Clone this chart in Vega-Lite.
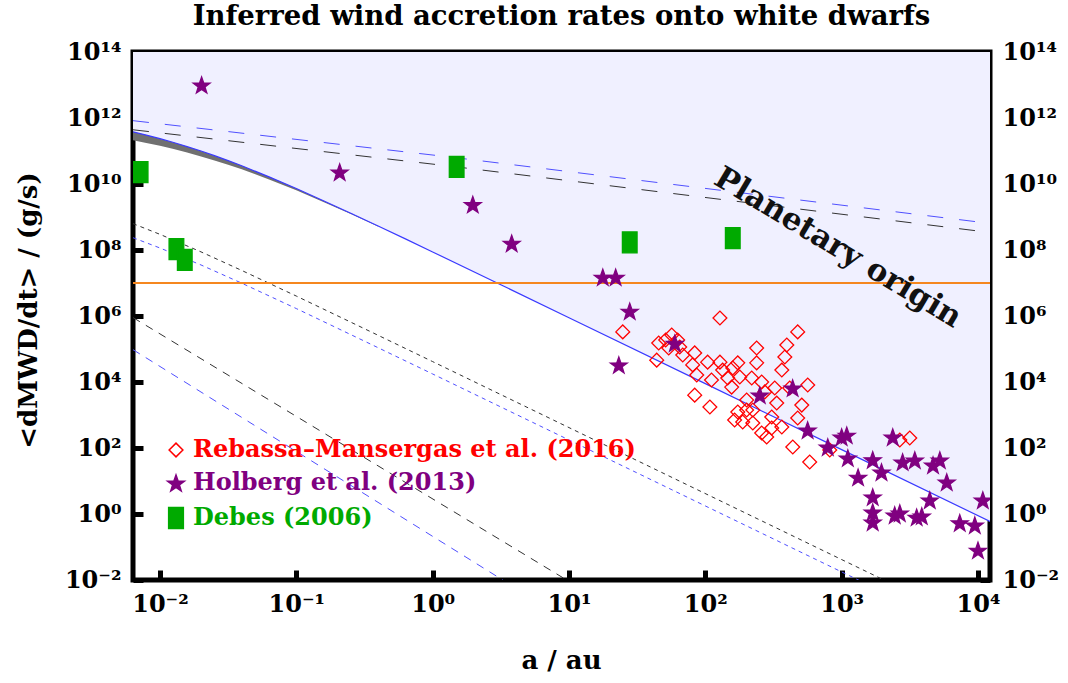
{
  "$schema": "https://vega.github.io/schema/vega-lite/v6.json",
  "autosize": {"type": "none"},
  "width": 857,
  "height": 528,
  "padding": {"left": 133, "top": 52, "right": 78, "bottom": 103},
  "background": "white",
  "title": {"text": "Inferred wind accretion rates onto white dwarfs", "font": "DejaVu Serif", "fontSize": 27.5, "fontWeight": "bold", "color": "black", "anchor": "middle", "frame": "group", "offset": 10},
  "config": {
    "view": {"stroke": "black", "strokeWidth": 5},
    "axis": {
      "domain": false, "grid": false,
      "labelFont": "DejaVu Serif", "labelFontWeight": "bold", "labelFontSize": 24, "labelColor": "black",
      "titleFont": "DejaVu Serif", "titleFontWeight": "bold", "titleFontSize": 26, "titleColor": "black",
      "tickColor": "black", "tickWidth": 5, "tickSize": -10, "labelPadding": 22,
      "labelFlush": false, "labelOverlap": false,
      "labelExpr": "'10' + replace(replace(replace(replace(replace(replace(replace(replace(replace(replace(replace(toString(round(log(datum.value)/LN10)), '-', '⁻'), '0', '⁰'), '1', '¹'), '2', '²'), '3', '³'), '4', '⁴'), '5', '⁵'), '6', '⁶'), '7', '⁷'), '8', '⁸'), '9', '⁹')"
    },
    "legend": {
      "orient": "none", "legendX": 31, "legendY": 386, "title": null,
      "labelFont": "DejaVu Serif", "labelFontWeight": "bold", "labelFontSize": 24, "labelOffset": 5, "labelLimit": 800, "rowPadding": 9
    }
  },
  "datasets": {
    "main": [
      {"a": 0.00634, "mdot": 3.8e11}, {"a": 0.00794, "mdot": 3.03e11}, {"a": 0.01, "mdot": 2.37e11},
      {"a": 0.0126, "mdot": 1.81e11}, {"a": 0.0158, "mdot": 1.36e11}, {"a": 0.02, "mdot": 1.0e11},
      {"a": 0.0251, "mdot": 7.21e10}, {"a": 0.0316, "mdot": 5.11e10}, {"a": 0.0398, "mdot": 3.56e10},
      {"a": 0.0631, "mdot": 1.65e10}, {"a": 0.1, "mdot": 7.3e9}, {"a": 0.158, "mdot": 3.12e9},
      {"a": 0.251, "mdot": 1.3e9}, {"a": 0.398, "mdot": 5.33e8}, {"a": 0.631, "mdot": 2.17e8},
      {"a": 1, "mdot": 8.73e7}, {"a": 3.16, "mdot": 8.85e6}, {"a": 10, "mdot": 8.89e5},
      {"a": 100, "mdot": 8910}, {"a": 1000, "mdot": 89.1}, {"a": 12250, "mdot": 0.594}
    ],
    "band": [
      {"a": 0.00634, "hi": 3.8e11, "lo": 2.13e11}, {"a": 0.00794, "hi": 3.03e11, "lo": 1.76e11},
      {"a": 0.01, "hi": 2.37e11, "lo": 1.43e11}, {"a": 0.0126, "hi": 1.81e11, "lo": 1.14e11},
      {"a": 0.0158, "hi": 1.36e11, "lo": 8.93e10}, {"a": 0.02, "hi": 1.0e11, "lo": 6.87e10},
      {"a": 0.0251, "hi": 7.21e10, "lo": 5.18e10}, {"a": 0.0316, "hi": 5.11e10, "lo": 3.83e10},
      {"a": 0.0398, "hi": 3.56e10, "lo": 2.78e10}, {"a": 0.0631, "hi": 1.65e10, "lo": 1.38e10},
      {"a": 0.1, "hi": 7.3e9, "lo": 6.46e9}, {"a": 0.158, "hi": 3.12e9, "lo": 2.87e9},
      {"a": 0.251, "hi": 1.3e9, "lo": 1.23e9}, {"a": 0.398, "hi": 5.33e8, "lo": 5.15e8}
    ],
    "lines": [
      {"line": "U1", "a": 0.00634, "mdot": 8.3e11}, {"line": "U1", "a": 1.33, "mdot": 6.6e10}, {"line": "U1", "a": 12250, "mdot": 6.4e8},
      {"line": "U2", "a": 0.00634, "mdot": 4.4e11}, {"line": "U2", "a": 1.33, "mdot": 3.5e10}, {"line": "U2", "a": 12250, "mdot": 3.4e8},
      {"line": "L1", "a": 0.00634, "mdot": 6.3e8}, {"line": "L1", "a": 0.01, "mdot": 2.98e8}, {"line": "L1", "a": 0.02, "mdot": 8.77e7},
      {"line": "L1", "a": 0.0398, "mdot": 2.4e7}, {"line": "L1", "a": 0.1, "mdot": 4.02e6}, {"line": "L1", "a": 0.316, "mdot": 4.12e5},
      {"line": "L1", "a": 1, "mdot": 4.15e4}, {"line": "L1", "a": 2240, "mdot": 0.0083},
      {"line": "L2", "a": 0.00634, "mdot": 2.36e8}, {"line": "L2", "a": 0.01, "mdot": 1.15e8}, {"line": "L2", "a": 0.02, "mdot": 3.52e7},
      {"line": "L2", "a": 0.0398, "mdot": 9.86e6}, {"line": "L2", "a": 0.1, "mdot": 1.68e6}, {"line": "L2", "a": 0.316, "mdot": 1.73e5},
      {"line": "L2", "a": 1, "mdot": 1.75e4}, {"line": "L2", "a": 1585, "mdot": 0.007},
      {"line": "L3", "a": 0.00634, "mdot": 8.97e5}, {"line": "L3", "a": 15.85, "mdot": 0.00287},
      {"line": "L4", "a": 0.00634, "mdot": 9.55e4}, {"line": "L4", "a": 3.98, "mdot": 0.006}
    ],
    "threshold": [{"mdot": 1e7}],
    "points": [
      {"series": "Rebassa–Mansergas et al. (2016)", "a": 128, "mdot": 8.7e5},
      {"series": "Rebassa–Mansergas et al. (2016)", "a": 24.8, "mdot": 3.3e5},
      {"series": "Rebassa–Mansergas et al. (2016)", "a": 476, "mdot": 3.3e5},
      {"series": "Rebassa–Mansergas et al. (2016)", "a": 45.5, "mdot": 1.52e5},
      {"series": "Rebassa–Mansergas et al. (2016)", "a": 51.2, "mdot": 1.87e5},
      {"series": "Rebassa–Mansergas et al. (2016)", "a": 56.7, "mdot": 2.66e5},
      {"series": "Rebassa–Mansergas et al. (2016)", "a": 62.7, "mdot": 1.87e5},
      {"series": "Rebassa–Mansergas et al. (2016)", "a": 64.9, "mdot": 1.15e5},
      {"series": "Rebassa–Mansergas et al. (2016)", "a": 53.9, "mdot": 1.07e5},
      {"series": "Rebassa–Mansergas et al. (2016)", "a": 44.0, "mdot": 4.6e4},
      {"series": "Rebassa–Mansergas et al. (2016)", "a": 68.3, "mdot": 6.6e4},
      {"series": "Rebassa–Mansergas et al. (2016)", "a": 83.6, "mdot": 7.6e4},
      {"series": "Rebassa–Mansergas et al. (2016)", "a": 80.8, "mdot": 3.3e4},
      {"series": "Rebassa–Mansergas et al. (2016)", "a": 104, "mdot": 4.0e4},
      {"series": "Rebassa–Mansergas et al. (2016)", "a": 128, "mdot": 4.0e4},
      {"series": "Rebassa–Mansergas et al. (2016)", "a": 86.5, "mdot": 1.63e4},
      {"series": "Rebassa–Mansergas et al. (2016)", "a": 83.6, "mdot": 4000},
      {"series": "Rebassa–Mansergas et al. (2016)", "a": 111, "mdot": 1.15e4},
      {"series": "Rebassa–Mansergas et al. (2016)", "a": 108, "mdot": 1750},
      {"series": "Rebassa–Mansergas et al. (2016)", "a": 134, "mdot": 2.3e4},
      {"series": "Rebassa–Mansergas et al. (2016)", "a": 146, "mdot": 1.32e4},
      {"series": "Rebassa–Mansergas et al. (2016)", "a": 159, "mdot": 2.65e4},
      {"series": "Rebassa–Mansergas et al. (2016)", "a": 173, "mdot": 3.8e4},
      {"series": "Rebassa–Mansergas et al. (2016)", "a": 179, "mdot": 1.42e4},
      {"series": "Rebassa–Mansergas et al. (2016)", "a": 156, "mdot": 7000},
      {"series": "Rebassa–Mansergas et al. (2016)", "a": 238, "mdot": 1.07e5},
      {"series": "Rebassa–Mansergas et al. (2016)", "a": 238, "mdot": 3.8e4},
      {"series": "Rebassa–Mansergas et al. (2016)", "a": 219, "mdot": 1.32e4},
      {"series": "Rebassa–Mansergas et al. (2016)", "a": 259, "mdot": 1.0e4},
      {"series": "Rebassa–Mansergas et al. (2016)", "a": 273, "mdot": 5000},
      {"series": "Rebassa–Mansergas et al. (2016)", "a": 396, "mdot": 1.32e5},
      {"series": "Rebassa–Mansergas et al. (2016)", "a": 383, "mdot": 5.7e4},
      {"series": "Rebassa–Mansergas et al. (2016)", "a": 364, "mdot": 2.3e4},
      {"series": "Rebassa–Mansergas et al. (2016)", "a": 323, "mdot": 6600},
      {"series": "Rebassa–Mansergas et al. (2016)", "a": 334, "mdot": 2300},
      {"series": "Rebassa–Mansergas et al. (2016)", "a": 364, "mdot": 433},
      {"series": "Rebassa–Mansergas et al. (2016)", "a": 438, "mdot": 107},
      {"series": "Rebassa–Mansergas et al. (2016)", "a": 583, "mdot": 37.7},
      {"series": "Rebassa–Mansergas et al. (2016)", "a": 564, "mdot": 8100},
      {"series": "Rebassa–Mansergas et al. (2016)", "a": 510, "mdot": 2000},
      {"series": "Rebassa–Mansergas et al. (2016)", "a": 476, "mdot": 811},
      {"series": "Rebassa–Mansergas et al. (2016)", "a": 307, "mdot": 404},
      {"series": "Rebassa–Mansergas et al. (2016)", "a": 259, "mdot": 285},
      {"series": "Rebassa–Mansergas et al. (2016)", "a": 223, "mdot": 573},
      {"series": "Rebassa–Mansergas et al. (2016)", "a": 201, "mdot": 1420},
      {"series": "Rebassa–Mansergas et al. (2016)", "a": 173, "mdot": 1230},
      {"series": "Rebassa–Mansergas et al. (2016)", "a": 164, "mdot": 705},
      {"series": "Rebassa–Mansergas et al. (2016)", "a": 188, "mdot": 614},
      {"series": "Rebassa–Mansergas et al. (2016)", "a": 223, "mdot": 1420},
      {"series": "Rebassa–Mansergas et al. (2016)", "a": 201, "mdot": 2850},
      {"series": "Rebassa–Mansergas et al. (2016)", "a": 282, "mdot": 215},
      {"series": "Rebassa–Mansergas et al. (2016)", "a": 307, "mdot": 869},
      {"series": "Rebassa–Mansergas et al. (2016)", "a": 416, "mdot": 6600},
      {"series": "Rebassa–Mansergas et al. (2016)", "a": 818, "mdot": 87},
      {"series": "Rebassa–Mansergas et al. (2016)", "a": 2670, "mdot": 175},
      {"series": "Rebassa–Mansergas et al. (2016)", "a": 3160, "mdot": 201},
      {"series": "Holberg et al. (2013)", "a": 0.0202, "mdot": 1.0e13},
      {"series": "Holberg et al. (2013)", "a": 0.208, "mdot": 2.3e10},
      {"series": "Holberg et al. (2013)", "a": 1.97, "mdot": 2.4e9},
      {"series": "Holberg et al. (2013)", "a": 3.8, "mdot": 1.6e8},
      {"series": "Holberg et al. (2013)", "a": 17.7, "mdot": 1.5e7},
      {"series": "Holberg et al. (2013)", "a": 22, "mdot": 1.5e7},
      {"series": "Holberg et al. (2013)", "a": 27.9, "mdot": 1.4e6},
      {"series": "Holberg et al. (2013)", "a": 23.2, "mdot": 3.3e4},
      {"series": "Holberg et al. (2013)", "a": 59.7, "mdot": 1.5e5},
      {"series": "Holberg et al. (2013)", "a": 251, "mdot": 4000},
      {"series": "Holberg et al. (2013)", "a": 437, "mdot": 6600},
      {"series": "Holberg et al. (2013)", "a": 563, "mdot": 351},
      {"series": "Holberg et al. (2013)", "a": 791, "mdot": 107},
      {"series": "Holberg et al. (2013)", "a": 1000, "mdot": 214},
      {"series": "Holberg et al. (2013)", "a": 1090, "mdot": 245},
      {"series": "Holberg et al. (2013)", "a": 1110, "mdot": 50},
      {"series": "Holberg et al. (2013)", "a": 1320, "mdot": 13},
      {"series": "Holberg et al. (2013)", "a": 1690, "mdot": 44},
      {"series": "Holberg et al. (2013)", "a": 1690, "mdot": 3.3},
      {"series": "Holberg et al. (2013)", "a": 1690, "mdot": 1.15},
      {"series": "Holberg et al. (2013)", "a": 1690, "mdot": 0.57},
      {"series": "Holberg et al. (2013)", "a": 1960, "mdot": 18.6},
      {"series": "Holberg et al. (2013)", "a": 2370, "mdot": 214},
      {"series": "Holberg et al. (2013)", "a": 2450, "mdot": 0.93},
      {"series": "Holberg et al. (2013)", "a": 2670, "mdot": 1.07},
      {"series": "Holberg et al. (2013)", "a": 2800, "mdot": 37.7},
      {"series": "Holberg et al. (2013)", "a": 3440, "mdot": 43},
      {"series": "Holberg et al. (2013)", "a": 3550, "mdot": 0.8},
      {"series": "Holberg et al. (2013)", "a": 3870, "mdot": 0.87},
      {"series": "Holberg et al. (2013)", "a": 4430, "mdot": 2.65},
      {"series": "Holberg et al. (2013)", "a": 4680, "mdot": 30.5},
      {"series": "Holberg et al. (2013)", "a": 5250, "mdot": 43},
      {"series": "Holberg et al. (2013)", "a": 5900, "mdot": 9.3},
      {"series": "Holberg et al. (2013)", "a": 7350, "mdot": 0.54},
      {"series": "Holberg et al. (2013)", "a": 9480, "mdot": 0.46},
      {"series": "Holberg et al. (2013)", "a": 10000, "mdot": 0.08},
      {"series": "Holberg et al. (2013)", "a": 10850, "mdot": 2.65},
      {"series": "Debes (2006)", "a": 0.00721, "mdot": 2.3e10},
      {"series": "Debes (2006)", "a": 0.0132, "mdot": 1.07e8},
      {"series": "Debes (2006)", "a": 0.0152, "mdot": 5.0e7},
      {"series": "Debes (2006)", "a": 1.5, "mdot": 3.3e10},
      {"series": "Debes (2006)", "a": 27.9, "mdot": 1.7e8},
      {"series": "Debes (2006)", "a": 159, "mdot": 2.3e8}
    ],
    "label": [{"a": 936, "mdot": 1.15e8, "text": "Planetary origin"}]
  },
  "layer": [
    {
      "data": {"name": "main"},
      "mark": {"type": "area", "fill": "#f0f0ff", "clip": true},
      "encoding": {
        "x": {"field": "a", "type": "quantitative", "title": "a / au",
              "scale": {"type": "log", "domain": [0.00634, 12250], "nice": false},
              "axis": {"orient": "bottom", "values": [0.01, 0.1, 1, 10, 100, 1000, 10000], "titleX": 428, "titleY": 80, "titleBaseline": "middle"}},
        "y": {"field": "mdot", "type": "quantitative", "title": "<dMWD/dt> / (g/s)",
              "scale": {"type": "log", "domain": [0.01, 1e14], "nice": false},
              "axis": {"orient": "left", "values": [0.01, 1, 100, 10000, 1e6, 1e8, 1e10, 1e12, 1e14], "titleX": -105, "titleY": 258, "titleBaseline": "middle", "titleAngle": -90, "titleAlign": "center"}},
        "y2": {"datum": 1e14}
      }
    },
    {
      "data": {"name": "band"},
      "mark": {"type": "area", "fill": "#707070", "clip": true},
      "encoding": {
        "x": {"field": "a", "type": "quantitative", "title": "a / au",
              "axis": {"orient": "bottom", "values": [0.01, 0.1, 1, 10, 100, 1000, 10000], "titleX": 428, "titleY": 80, "titleBaseline": "middle"}},
        "y": {"field": "hi", "type": "quantitative", "axis": null},
        "y2": {"field": "lo"}
      }
    },
    {
      "data": {"name": "main"},
      "mark": {"type": "line", "stroke": "#3a3aff", "strokeWidth": 1.2, "clip": true},
      "encoding": {
        "x": {"field": "a", "type": "quantitative", "title": "a / au",
              "axis": {"orient": "bottom", "values": [0.01, 0.1, 1, 10, 100, 1000, 10000], "titleX": 428, "titleY": 80, "titleBaseline": "middle"}},
        "y": {"field": "mdot", "type": "quantitative", "axis": null}
      }
    },
    {
      "data": {"name": "lines"},
      "transform": [{"filter": "datum.line === 'U1'"}],
      "mark": {"type": "line", "stroke": "#5050ff", "strokeWidth": 1, "strokeDash": [16, 16], "clip": true},
      "encoding": {
        "x": {"field": "a", "type": "quantitative", "title": "a / au",
              "axis": {"orient": "bottom", "values": [0.01, 0.1, 1, 10, 100, 1000, 10000], "titleX": 428, "titleY": 80, "titleBaseline": "middle"}},
        "y": {"field": "mdot", "type": "quantitative", "axis": null}
      }
    },
    {
      "data": {"name": "lines"},
      "transform": [{"filter": "datum.line === 'U2'"}],
      "mark": {"type": "line", "stroke": "#333333", "strokeWidth": 1, "strokeDash": [16, 16], "clip": true},
      "encoding": {
        "x": {"field": "a", "type": "quantitative", "title": "a / au",
              "axis": {"orient": "bottom", "values": [0.01, 0.1, 1, 10, 100, 1000, 10000], "titleX": 428, "titleY": 80, "titleBaseline": "middle"}},
        "y": {"field": "mdot", "type": "quantitative", "axis": null}
      }
    },
    {
      "data": {"name": "lines"},
      "transform": [{"filter": "datum.line === 'L1'"}],
      "mark": {"type": "line", "stroke": "#333333", "strokeWidth": 1, "strokeDash": [4, 4], "clip": true},
      "encoding": {
        "x": {"field": "a", "type": "quantitative", "title": "a / au",
              "axis": {"orient": "bottom", "values": [0.01, 0.1, 1, 10, 100, 1000, 10000], "titleX": 428, "titleY": 80, "titleBaseline": "middle"}},
        "y": {"field": "mdot", "type": "quantitative", "axis": null}
      }
    },
    {
      "data": {"name": "lines"},
      "transform": [{"filter": "datum.line === 'L2'"}],
      "mark": {"type": "line", "stroke": "#5050ff", "strokeWidth": 1, "strokeDash": [4, 4], "clip": true},
      "encoding": {
        "x": {"field": "a", "type": "quantitative", "title": "a / au",
              "axis": {"orient": "bottom", "values": [0.01, 0.1, 1, 10, 100, 1000, 10000], "titleX": 428, "titleY": 80, "titleBaseline": "middle"}},
        "y": {"field": "mdot", "type": "quantitative", "axis": null}
      }
    },
    {
      "data": {"name": "lines"},
      "transform": [{"filter": "datum.line === 'L3'"}],
      "mark": {"type": "line", "stroke": "#333333", "strokeWidth": 1, "strokeDash": [8, 7], "clip": true},
      "encoding": {
        "x": {"field": "a", "type": "quantitative", "title": "a / au",
              "axis": {"orient": "bottom", "values": [0.01, 0.1, 1, 10, 100, 1000, 10000], "titleX": 428, "titleY": 80, "titleBaseline": "middle"}},
        "y": {"field": "mdot", "type": "quantitative", "axis": null}
      }
    },
    {
      "data": {"name": "lines"},
      "transform": [{"filter": "datum.line === 'L4'"}],
      "mark": {"type": "line", "stroke": "#5050ff", "strokeWidth": 1, "strokeDash": [8, 7], "clip": true},
      "encoding": {
        "x": {"field": "a", "type": "quantitative", "title": "a / au",
              "axis": {"orient": "bottom", "values": [0.01, 0.1, 1, 10, 100, 1000, 10000], "titleX": 428, "titleY": 80, "titleBaseline": "middle"}},
        "y": {"field": "mdot", "type": "quantitative", "axis": null}
      }
    },
    {
      "data": {"name": "threshold"},
      "mark": {"type": "rule", "stroke": "#f5871f", "strokeWidth": 1.8},
      "encoding": {"y": {"field": "mdot", "type": "quantitative", "axis": null}}
    },
    {
      "data": {"name": "points"},
      "mark": {"type": "point", "filled": false, "strokeWidth": 1.3, "opacity": 1, "clip": true},
      "encoding": {
        "x": {"field": "a", "type": "quantitative", "title": "a / au",
              "axis": {"orient": "bottom", "values": [0.01, 0.1, 1, 10, 100, 1000, 10000], "titleX": 428, "titleY": 80, "titleBaseline": "middle"}},
        "y": {"field": "mdot", "type": "quantitative",
              "axis": {"orient": "right", "values": [0.01, 1, 100, 10000, 1e6, 1e8, 1e10, 1e12, 1e14], "title": null}},
        "shape": {"field": "series", "type": "nominal",
                  "scale": {"domain": ["Rebassa–Mansergas et al. (2016)", "Holberg et al. (2013)", "Debes (2006)"], "range": ["diamond", "M0,-0.905L0.235,-0.229L0.951,-0.214L0.38,0.219L0.588,0.904L0,0.495L-0.588,0.904L-0.38,0.219L-0.951,-0.214L-0.235,-0.229Z", "M-0.7,-1L0.7,-1L0.7,1L-0.7,1Z"]},
                  "legend": {"labelColor": {"expr": "datum.value === 'Debes (2006)' ? '#00aa00' : datum.value === 'Holberg et al. (2013)' ? '#800080' : '#ff0000'"}}},
        "stroke": {"field": "series", "type": "nominal",
                   "scale": {"domain": ["Rebassa–Mansergas et al. (2016)", "Holberg et al. (2013)", "Debes (2006)"], "range": ["#ff0000", "#800080", "#00aa00"]},
                   "legend": {"labelColor": {"expr": "datum.value === 'Debes (2006)' ? '#00aa00' : datum.value === 'Holberg et al. (2013)' ? '#800080' : '#ff0000'"}}},
        "fill": {"field": "series", "type": "nominal",
                 "scale": {"domain": ["Rebassa–Mansergas et al. (2016)", "Holberg et al. (2013)", "Debes (2006)"], "range": ["transparent", "#800080", "#00aa00"]},
                 "legend": {"labelColor": {"expr": "datum.value === 'Debes (2006)' ? '#00aa00' : datum.value === 'Holberg et al. (2013)' ? '#800080' : '#ff0000'"}}},
        "size": {"field": "series", "type": "nominal",
                 "scale": {"domain": ["Rebassa–Mansergas et al. (2016)", "Holberg et al. (2013)", "Debes (2006)"], "range": [190, 440, 170]},
                 "legend": {"labelColor": {"expr": "datum.value === 'Debes (2006)' ? '#00aa00' : datum.value === 'Holberg et al. (2013)' ? '#800080' : '#ff0000'"}}}
      }
    },
    {
      "data": {"name": "label"},
      "mark": {"type": "text", "font": "DejaVu Serif", "fontWeight": "bold", "fontSize": 31, "angle": 31, "align": "center", "baseline": "middle", "fill": "#111111"},
      "encoding": {
        "x": {"field": "a", "type": "quantitative", "title": "a / au",
              "axis": {"orient": "bottom", "values": [0.01, 0.1, 1, 10, 100, 1000, 10000], "titleX": 428, "titleY": 80, "titleBaseline": "middle"}},
        "y": {"field": "mdot", "type": "quantitative", "axis": null},
        "text": {"field": "text"}
      }
    }
  ],
  "resolve": {"axis": {"y": "independent"}}
}
